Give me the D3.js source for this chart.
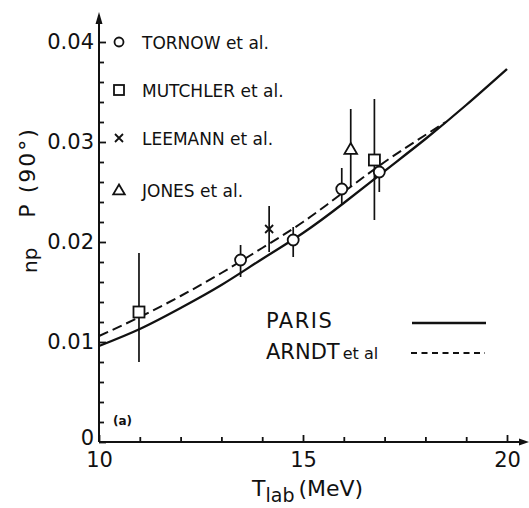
<!DOCTYPE html>
<html><head><meta charset="utf-8">
<script src="https://cdn.jsdelivr.net/npm/d3@7"></script>
<style>
html,body{margin:0;padding:0;background:#fff;}
svg{display:block;font-family:"DejaVu Sans",sans-serif;}
</style></head>
<body><svg id="c" width="529" height="508"></svg>
<script>
// ---- data ----
const parisT   = [10, 11, 12, 13, 14, 15, 16, 17, 18, 19, 20];
const parisP   = [0.0096, 0.0113, 0.0134, 0.0157, 0.0183, 0.0209, 0.0239, 0.0271, 0.0303, 0.0337, 0.0373];
const arndtT   = [10, 11, 12, 13, 14, 15, 16, 17, 18, 18.5];
const arndtP   = [0.0106, 0.0125, 0.0146, 0.0169, 0.0194, 0.0220, 0.0250, 0.0280, 0.0307, 0.0320];

const tornowT  = [13.47, 14.76, 15.95, 16.87];
const tornowP  = [0.0182, 0.0202, 0.0253, 0.0270];
const tornowLo = [0.0165, 0.0185, 0.0237, 0.0250];
const tornowHi = [0.0197, 0.0215, 0.0274, 0.0288];

const mutchT   = [10.98, 16.75];
const mutchP   = [0.0130, 0.0282];
const mutchLo  = [0.0080, 0.0222];
const mutchHi  = [0.0189, 0.0343];

const leemT    = [14.17];
const leemP    = [0.0213];
const leemLo   = [0.0190];
const leemHi   = [0.0236];

const jonesT   = [16.17];
const jonesP   = [0.0293];
const jonesLo  = [0.0255];
const jonesHi  = [0.0333];

const xMajor = [10, 15, 20];
const xMinor = [11, 12, 13, 14, 16, 17, 18, 19];
const yMajor = [0, 0.01, 0.02, 0.03, 0.04];
const yMajorLabels = ["0", "0.01", "0.02", "0.03", "0.04"];
const yMinor = [0.002,0.004,0.006,0.008,0.012,0.014,0.016,0.018,0.022,0.024,0.026,0.028,0.032,0.034,0.036,0.038];

const legendNames = ["TORNOW et al.", "MUTCHLER et al.", "LEEMANN et al.", "JONES et al."];

// ---- chart ----
const svg = d3.select("#c");
const x = d3.scaleLinear().domain([10, 20]).range([99, 507]);
const y = d3.scaleLinear().domain([0, 0.04]).range([442, 42]);
const ink = "#111";

// axes lines with arrows
svg.append("line").attr("x1", x(10)).attr("x2", 524).attr("y1", y(0)).attr("y2", y(0))
  .attr("stroke", ink).attr("stroke-width", 2);
svg.append("path").attr("d", `M529,${y(0)} L519,${y(0)-3.5} L519,${y(0)+3.5} Z`).attr("fill", ink);
svg.append("line").attr("x1", x(10)).attr("x2", x(10)).attr("y1", y(0)).attr("y2", 18)
  .attr("stroke", ink).attr("stroke-width", 2);
svg.append("path").attr("d", `M${x(10)},12 L${x(10)-3.5},24 L${x(10)+3.5},24 Z`).attr("fill", ink);

// x axis ticks
const gx = svg.append("g").attr("transform", `translate(0,${y(0)})`);
gx.call(d3.axisBottom(x).tickValues(xMajor).tickSizeInner(-7).tickSizeOuter(0).tickPadding(10).tickFormat(d3.format("d")));
gx.append("g").call(d3.axisBottom(x).tickValues(xMinor).tickSizeInner(-5).tickSizeOuter(0).tickFormat(""));
gx.selectAll(".domain").remove();
gx.selectAll("line").attr("stroke", ink).attr("stroke-width", 1.8);
gx.selectAll("text").attr("font-size", 21).attr("fill", ink).attr("font-family", "DejaVu Sans").attr("dy", "0.72em");

// y axis ticks
const gy = svg.append("g").attr("transform", `translate(${x(10)},0)`);
gy.call(d3.axisLeft(y).tickValues(yMajor).tickSizeInner(-7).tickSizeOuter(0).tickPadding(5)
  .tickFormat((d, i) => yMajorLabels[i]));
gy.append("g").call(d3.axisLeft(y).tickValues(yMinor).tickSizeInner(-5).tickSizeOuter(0).tickFormat(""));
gy.selectAll(".domain").remove();
gy.selectAll("line").attr("stroke", ink).attr("stroke-width", 1.8);
gy.selectAll("text").attr("font-size", 21).attr("fill", ink).attr("font-family", "DejaVu Sans");
gy.selectAll("text").filter(d => d === 0).attr("dy", "0.1em");

// curves
const line = d3.line().x(d => x(d[0])).y(d => y(d[1])).curve(d3.curveNatural);
svg.append("path").datum(parisT.map((t, i) => [t, parisP[i]])).attr("d", line)
  .attr("fill", "none").attr("stroke", ink).attr("stroke-width", 2.3);
svg.append("path").datum(arndtT.map((t, i) => [t, arndtP[i]])).attr("d", line)
  .attr("fill", "none").attr("stroke", ink).attr("stroke-width", 2).attr("stroke-dasharray", "10,5");

// error bars
function errBars(T, Lo, Hi) {
  svg.append("g").selectAll("line").data(T).join("line")
    .attr("x1", d => x(d)).attr("x2", d => x(d))
    .attr("y1", (d, i) => y(Lo[i])).attr("y2", (d, i) => y(Hi[i]))
    .attr("stroke", ink).attr("stroke-width", 1.7);
}
errBars(tornowT, tornowLo, tornowHi);
errBars(mutchT, mutchLo, mutchHi);
errBars(leemT, leemLo, leemHi);
errBars(jonesT, jonesLo, jonesHi);

// markers
function circle(g, cx, cy, r) {
  g.append("circle").attr("cx", cx).attr("cy", cy).attr("r", r)
    .attr("fill", "#fff").attr("stroke", ink).attr("stroke-width", 1.8);
}
function square(g, cx, cy, s) {
  g.append("rect").attr("x", cx - s / 2).attr("y", cy - s / 2).attr("width", s).attr("height", s)
    .attr("fill", "#fff").attr("stroke", ink).attr("stroke-width", 1.8);
}
function cross(g, cx, cy, s) {
  g.append("path").attr("d", `M${cx-s},${cy-s}L${cx+s},${cy+s}M${cx-s},${cy+s}L${cx+s},${cy-s}`)
    .attr("stroke", ink).attr("stroke-width", 1.8).attr("fill", "none");
}
function tri(g, cx, cy, s) {
  g.append("path").attr("d", `M${cx},${cy-s}L${cx+s*1.05},${cy+s*0.8}L${cx-s*1.05},${cy+s*0.8}Z`)
    .attr("fill", "#fff").attr("stroke", ink).attr("stroke-width", 1.8);
}
const gm = svg.append("g");
tornowT.forEach((t, i) => circle(gm, x(t), y(tornowP[i]), 5.5));
mutchT.forEach((t, i) => square(gm, x(t), y(mutchP[i]), 11));
leemT.forEach((t, i) => cross(gm, x(t), y(leemP[i]), 4));
jonesT.forEach((t, i) => tri(gm, x(t), y(jonesP[i]), 6));

// legend for data
const lg = svg.append("g");
const ly = [42, 90, 138, 190];
circle(lg, 119, ly[0], 4.5);
square(lg, 119, ly[1], 10);
cross(lg, 119, ly[2], 4);
tri(lg, 119, ly[3], 5.5);
lg.selectAll("text").data(legendNames).join("text")
  .attr("x", 142).attr("y", (d, i) => ly[i] + 6.5)
  .attr("font-size", 17).attr("fill", ink).text(d => d);

// model legend
svg.append("text").attr("x", 266).attr("y", 328).attr("font-size", 21).attr("letter-spacing", 1.5)
  .attr("fill", ink).text("PARIS");
const at = svg.append("text").attr("x", 266).attr("y", 359).attr("font-size", 21).attr("fill", ink);
at.append("tspan").text("ARNDT");
at.append("tspan").attr("font-size", 16).attr("dx", 3).text("et al");
svg.append("line").attr("x1", 412).attr("x2", 486).attr("y1", 323).attr("y2", 323)
  .attr("stroke", ink).attr("stroke-width", 2.3);
svg.append("line").attr("x1", 411).attr("x2", 485).attr("y1", 353).attr("y2", 353)
  .attr("stroke", ink).attr("stroke-width", 2).attr("stroke-dasharray", "6,4.5");

// (a)
svg.append("text").attr("x", 113).attr("y", 425).attr("font-size", 12).attr("font-weight", "bold")
  .attr("fill", ink).text("(a)");

// axis titles
const xt = svg.append("text").attr("x", 252).attr("y", 496).attr("font-size", 22).attr("fill", ink);
xt.append("tspan").text("T");
xt.append("tspan").attr("font-size", 19).attr("dy", 6).text("lab");
xt.append("tspan").attr("dy", -6).attr("dx", 4).text("(MeV)");

const yt = svg.append("text").attr("transform", "translate(35,273) rotate(-90)")
  .attr("font-size", 22).attr("fill", ink);
yt.append("tspan").attr("font-size", 20).attr("dy", 2).text("np");
yt.append("tspan").attr("dx", 30).attr("dy", -2).attr("letter-spacing", 2).text("P (90°)");
</script></body></html>
